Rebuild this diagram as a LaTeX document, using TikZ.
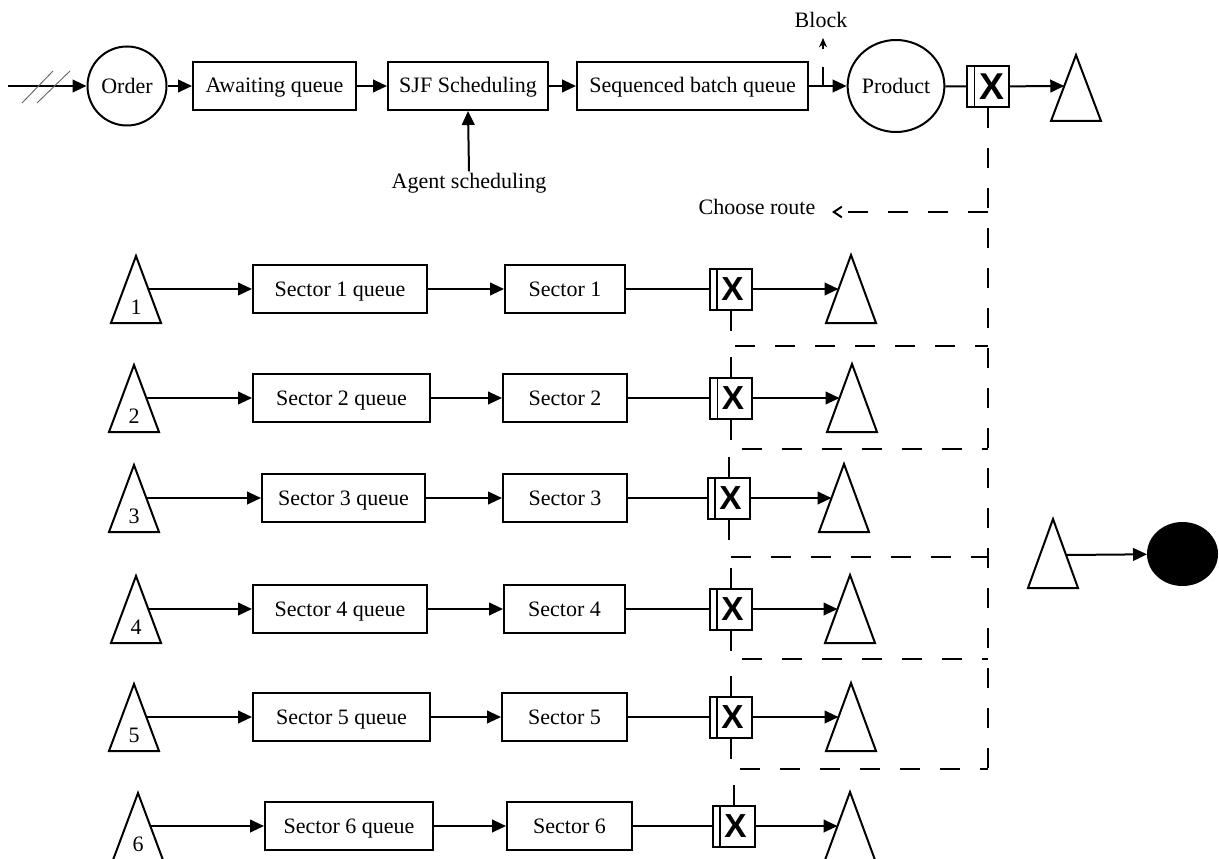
\documentclass[tikz,border=0pt]{standalone}
\usepackage{fontspec}
\setmainfont{Liberation Serif}
\newfontfamily\xfont{Liberation Sans}
\usetikzlibrary{arrows.meta,shapes.geometric,calc}

% triangle (source/sink symbol): name, apex x, apex y, base y, row y, label
\newcommand\mytri[6]{%
  \pgfmathsetmacro\myoff{25*((#5)-(#3))/((#4)-(#3))}%
  \draw[tri] (#2,#3) -- ({(#2)-25},#4) -- ({(#2)+25},#4) -- cycle;
  \coordinate (#1-w) at ({(#2)-\myoff},#5);
  \coordinate (#1-e) at ({(#2)+\myoff},#5);
  \if\relax\detokenize{#6}\relax\else
    \node[txt] (#1-n) at (#2,{(#4)-16}) {#6};\fi
}

\begin{document}
\begin{tikzpicture}[
  x=0.75pt, y=-0.75pt,
  txt/.style={inner sep=2pt, font=\fontsize{16.5}{19.8}\selectfont},
  box/.style={draw, line width=1.5pt, minimum height=36pt, inner sep=0pt,
    text height=14pt, text depth=3.5pt,
    font=\fontsize{16.5}{19.8}\selectfont},
  ln/.style={line width=1.5pt},
  arr/.style={line width=1.5pt, -{Triangle[length=10.5pt,width=9.5pt]}},
  dashln/.style={line width=1.5pt, dash pattern=on 15pt off 15pt},
  tri/.style={line width=1.5pt, line join=miter},
  xbox/.style={draw, line width=1.5pt, minimum width=31.5pt, minimum height=30.75pt,
    inner sep=0pt,
    path picture={\draw[line width=1.2pt]
      ([xshift=5.5pt]path picture bounding box.north west) --
      ([xshift=5.5pt]path picture bounding box.south west);}},
  xmark/.style={font=\xfont\bfseries\fontsize{25}{25}\selectfont},
  slash/.style={line width=0.7pt, black!60},
]
\useasboundingbox (0,0) rectangle (1219,859);

% ---------- order flow ----------
\coordinate (src) at (8,86);
\node[draw, circle, line width=1.5pt, minimum size=59.25pt, inner sep=0pt,
      font=\fontsize{16.5}{19.8}\selectfont] (order) at (127,86) {Order};
\node[box, minimum width=122.25pt] (await) at (274.5,86) {Awaiting queue};
\node[box, minimum width=120pt] (sjf) at (468,86) {SJF Scheduling};
\node[box, minimum width=173.25pt] (seq) at (692.5,86) {Sequenced batch queue};
\node[draw, ellipse, line width=1.5pt, minimum width=72pt, minimum height=69pt,
      inner sep=0pt, font=\fontsize{16.5}{19.8}\selectfont] (product) at (896,86) {Product};
\node[xbox] (xtop) at (988,86.5) {};
\node[xmark, font=\xfont\bfseries\fontsize{28}{28}\selectfont] (xtopm) at (991.5,86.5) {X};
\mytri{ttop}{1076}{55}{121}{86}{}

\draw[arr] (src) -- (order);
\draw[slash] (22,103) -- (53,71);
\draw[slash] (37,103) -- (70,71);
\draw[arr] (order) -- (await);
\draw[arr] (await) -- (sjf);
\draw[arr] (sjf) -- (seq);
\draw[arr] (seq) -- (product);
\draw[ln] (product) -- (xtop);
\draw[arr] (xtop) -- (ttop-w);

% block branch
\coordinate (blk) at (823,86);
\coordinate (blktop) at (823,67);
\coordinate (blkfrom) at (823,49);
\coordinate (blktip) at (823,38);
\node[txt] (block) at (821,20) {Block};
\draw[ln] (blk) -- (blktop);
\draw[line width=1pt, -{Stealth[length=7pt,width=6pt]}] (blkfrom) -- (blktip);

% agent scheduling
\node[txt] (agent) at (469,183) {Agent scheduling};
\draw[arr] ([yshift=-1pt]agent.north) -- (sjf.south);

% choose route
\coordinate (route) at (988,212);
\coordinate (routetip) at (832,212);
\node[txt] (choose) at (757,207) {Choose route};
\draw[dashln, -{Straight Barb[length=6pt,width=8pt]}] (route) -- (routetip);

% ---------- sector lines ----------
\foreach \k/\y/\lx/\qx/\qw/\sx/\sw/\xx/\rx in {
    1/289/136/340/130.5/565/90/730.5/851,
    2/398/134/341.5/132.75/565/93/731/852,
    3/498/134/343.5/122.25/565/93/728.5/844,
    4/609/136/340/130.5/564.5/90.75/730.5/850,
    5/717/134/341.5/132.75/564.5/93.75/730.5/851,
    6/826/138/349/126/569.5/93.75/733.5/850}{
  \mytri{lt\k}{\lx}{\y-33}{\y+34}{\y}{\k}
  \mytri{rt\k}{\rx}{\y-34}{\y+34}{\y}{}
  \node[box, minimum width=\qw pt] (q\k) at (\qx,\y) {Sector \k{} queue};
  \node[box, minimum width=\sw pt] (s\k) at (\sx,\y) {Sector \k};
  \node[xbox] (x\k) at (\xx,\y) {};
  \node[xmark] (xm\k) at ({\xx+2},\y) {X};
  \draw[arr] (lt\k-e) -- (q\k.west);
  \draw[arr] (q\k.east) -- (s\k.west);
  \draw[ln] (s\k.east) -- (x\k.west);
  \draw[arr] (x\k.east) -- (rt\k-w);
}

% ---------- routing links ----------
\foreach \k/\yl in {1/346,2/449,3/557,4/659,5/769}{
  \pgfmathtruncatemacro\kk{\k+1}
  \coordinate (bus\k) at (988,\yl);
  \draw[dashln] (x\k.south) |- (bus\k);
  \draw[dashln] (x\kk.north) -- (x\kk.north |- bus\k);
}
\draw[dashln] (xtop.south) -- (bus5);

% ---------- exit ----------
\mytri{tend}{1053}{519}{588}{555}{}
\node[draw, ellipse, fill=black, line width=1.5pt, minimum width=51.75pt,
      minimum height=46.5pt, inner sep=0pt] (sink) at (1182.5,554) {};
\draw[arr] (tend-e) -- (sink);
\end{tikzpicture}
\end{document}
